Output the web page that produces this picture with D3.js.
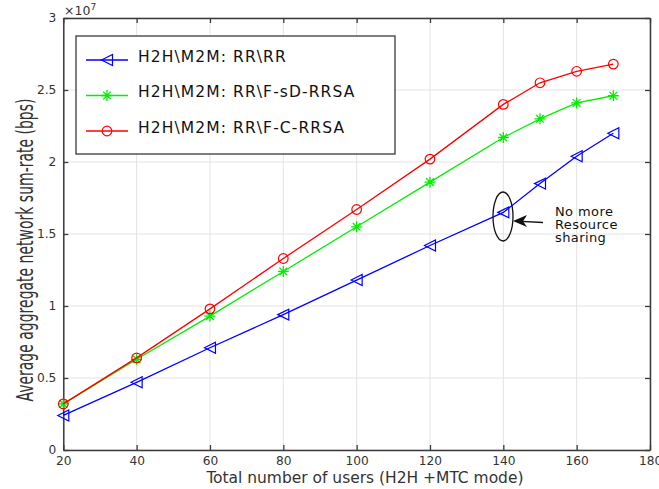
<!DOCTYPE html>
<html>
<head>
<meta charset="utf-8">
<script src="https://cdn.jsdelivr.net/npm/d3@7"></script>
<style>
  html, body { margin: 0; padding: 0; background: #fff; }
  svg { display: block; }
  text { font-family: "DejaVu Sans", sans-serif; }
</style>
</head>
<body>
<svg id="chart" width="659" height="489"></svg>
<script>
// Users (H2H + MTC) and aggregate sum-rate, in units of 1e7 bps
const users = [20, 40, 60, 80, 100, 120, 140, 150, 160, 170];
const rrRR    = [0.24, 0.47, 0.71, 0.94, 1.18, 1.42, 1.65, 1.85, 2.04, 2.20];
const rrFsD   = [0.32, 0.63, 0.93, 1.24, 1.55, 1.86, 2.17, 2.30, 2.41, 2.46];
const rrFC    = [0.32, 0.64, 0.98, 1.33, 1.67, 2.02, 2.40, 2.55, 2.63, 2.68];
const seriesNames = ["H2H\\M2M: RR\\RR", "H2H\\M2M: RR\\F-sD-RRSA", "H2H\\M2M: RR\\F-C-RRSA"];
const xTicks = [20, 40, 60, 80, 100, 120, 140, 160, 180];
const yTicks = [0, 0.5, 1, 1.5, 2, 2.5, 3];
const yTickLabels = ["0", "0.5", "1", "1.5", "2", "2.5", "3"];

const svg = d3.select("#chart");
const L = 63.3, R = 650, T = 18, B = 450;
const x = d3.scaleLinear().domain([20, 180]).range([L, R]);
const y = d3.scaleLinear().domain([0, 3]).range([B, T]);
const axisColor = "#3a3a3a";

// grid
const grid = svg.append("g");
grid.selectAll("line.vx").data(xTicks).join("line")
  .attr("x1", d => x(d)).attr("x2", d => x(d)).attr("y1", T).attr("y2", B)
  .attr("stroke", "#e3e3e3").attr("stroke-width", 1);
grid.selectAll("line.hy").data(yTicks).join("line")
  .attr("x1", L).attr("x2", R).attr("y1", d => y(d)).attr("y2", d => y(d))
  .attr("stroke", "#e3e3e3").attr("stroke-width", 1);

// axes
const xAxis = d3.axisBottom(x).tickValues(xTicks).tickSizeInner(-5).tickSizeOuter(0).tickPadding(6);
const yAxis = d3.axisLeft(y).tickValues(yTicks).tickFormat((d, i) => yTickLabels[i]).tickSizeInner(-5).tickSizeOuter(0).tickPadding(7);
const xTop = d3.axisTop(x).tickValues(xTicks).tickSizeInner(-5).tickSizeOuter(0).tickFormat("");
const yRight = d3.axisRight(y).tickValues(yTicks).tickSizeInner(-5).tickSizeOuter(0).tickFormat("");

function styleAxis(g) {
  g.select(".domain").attr("stroke", axisColor).attr("stroke-width", 1.5);
  g.selectAll(".tick line").attr("stroke", axisColor).attr("stroke-width", 1.3);
  g.selectAll(".tick text").attr("fill", "#333").style("font-size", "12.2px").style("font-family", "DejaVu Sans, sans-serif");
}
svg.append("g").attr("transform", `translate(0,${B})`).call(xAxis).call(styleAxis);
svg.append("g").attr("transform", `translate(${L},0)`).call(yAxis).call(styleAxis);
svg.append("g").attr("transform", `translate(0,${T})`).call(xTop).call(styleAxis);
svg.append("g").attr("transform", `translate(${R},0)`).call(yRight).call(styleAxis);

// exponent label
const ex = svg.append("text").attr("x", 64).attr("y", 15).attr("fill", "#333").style("font-size", "12.5px");
ex.append("tspan").text("×10");
ex.append("tspan").attr("dy", -5).style("font-size", "9px").text("7");

// axis titles
svg.append("text").attr("x", 365).attr("y", 482.5).attr("text-anchor", "middle")
  .attr("fill", "#333").style("font-size", "16.5px").style("font-family", "DejaVu Sans Condensed, DejaVu Sans, sans-serif")
  .attr("textLength", 317).attr("lengthAdjust", "spacingAndGlyphs")
  .text("Total number of users (H2H +MTC mode)");
svg.append("text").attr("transform", "translate(32.5,250) rotate(-90)").attr("text-anchor", "middle")
  .attr("fill", "#333").style("font-size", "23.5px").style("font-family", "DejaVu Sans Condensed, DejaVu Sans, sans-serif")
  .attr("textLength", 303).attr("lengthAdjust", "spacingAndGlyphs")
  .text("Average aggregate network sum-rate (bps)");

// series
const line = d3.line().x((d, i) => x(users[i])).y(d => y(d));
const series = [
  { values: rrRR, color: "#0000ff", marker: "tri" },
  { values: rrFsD, color: "#00ee00", marker: "star" },
  { values: rrFC, color: "#ff0000", marker: "circle" }
];

function drawMarker(g, type, cx, cy, color) {
  if (type === "tri") {
    const s = 5.5;
    g.append("path").attr("d", `M${cx - s},${cy} L${cx + s},${cy - s} L${cx + s},${cy + s} Z`)
      .attr("fill", "none").attr("stroke", color).attr("stroke-width", 1.2);
  } else if (type === "star") {
    const s = 5.5;
    const p = `M${cx - s},${cy} L${cx + s},${cy} M${cx},${cy - s} L${cx},${cy + s} ` +
      `M${cx - s * 0.7},${cy - s * 0.7} L${cx + s * 0.7},${cy + s * 0.7} M${cx - s * 0.7},${cy + s * 0.7} L${cx + s * 0.7},${cy - s * 0.7}`;
    g.append("path").attr("d", p).attr("stroke", color).attr("stroke-width", 1.3).attr("fill", "none");
  } else {
    g.append("circle").attr("cx", cx).attr("cy", cy).attr("r", 4.8)
      .attr("fill", "none").attr("stroke", color).attr("stroke-width", 1.2);
  }
}

series.forEach(s => {
  const g = svg.append("g");
  g.append("path").datum(s.values).attr("d", line).attr("fill", "none")
    .attr("stroke", s.color).attr("stroke-width", 1.3);
  s.values.forEach((v, i) => drawMarker(g, s.marker, x(users[i]), y(v), s.color));
});

// legend
const lg = svg.append("g");
lg.append("rect").attr("x", 76).attr("y", 36).attr("width", 319).attr("height", 118)
  .attr("fill", "#fff").attr("stroke", "#3a3a3a").attr("stroke-width", 1.3);
const legY = [60, 95.5, 131];
series.forEach((s, i) => {
  lg.append("line").attr("x1", 86).attr("x2", 128).attr("y1", legY[i]).attr("y2", legY[i])
    .attr("stroke", s.color).attr("stroke-width", 1.3);
  drawMarker(lg, s.marker, 107, legY[i], s.color);
  lg.append("text").attr("x", 138).attr("y", legY[i] + 1.5).attr("fill", "#111")
    .style("font-size", "15.5px").style("letter-spacing", "1.1px").text(seriesNames[i]);
});

// annotation
svg.append("ellipse").attr("cx", 503).attr("cy", 216.5).attr("rx", 10).attr("ry", 24.5)
  .attr("fill", "none").attr("stroke", "#111").attr("stroke-width", 1.3);
svg.append("line").attr("x1", 543).attr("y1", 222.5).attr("x2", 516).attr("y2", 221.2)
  .attr("stroke", "#111").attr("stroke-width", 1.3);
svg.append("path").attr("d", "M513,221 L527,215 L523,221.3 L527,227 Z").attr("fill", "#111");
const ann = svg.append("text").attr("fill", "#111").style("font-size", "13px").style("letter-spacing", "0.4px");
["No more", "Resource", "sharing"].forEach((t, i) => {
  ann.append("tspan").attr("x", 555).attr("y", 216 + i * 12.8).text(t);
});
</script>
</body>
</html>
